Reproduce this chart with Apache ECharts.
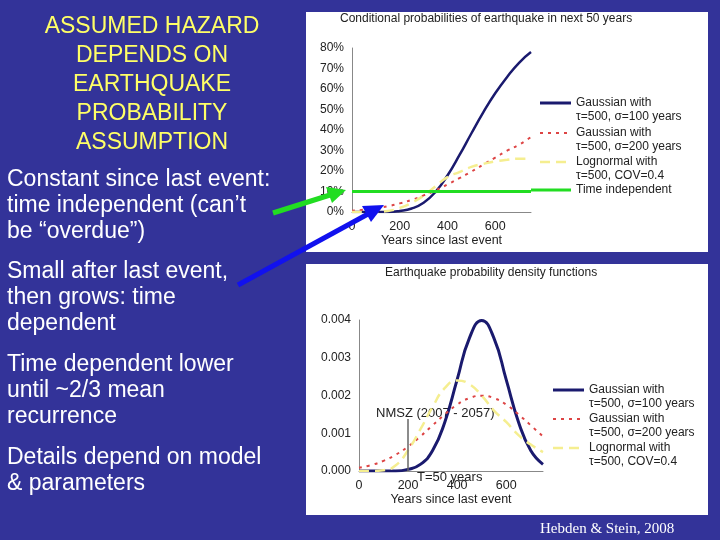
<!DOCTYPE html>
<html><head><meta charset="utf-8">
<script src="https://cdn.jsdelivr.net/npm/echarts@6/dist/echarts.min.js"></script>
<style>html,body{margin:0;padding:0;background:#333399}#c{width:720px;height:540px}</style>
</head><body><div id="c"></div>
<script>
var years = [0,50,100,150,200,250,300,350,400,450,500,550,600,650,700,750];
var xTicks = [0,200,400,600];
var condGauss100 = [0,0,0,0,0.5,1.7,4.5,9.8,17.8,27.7,38.3,48.6,57.9,65.9,72.8,78];
var condGauss200 = [0.6,1.1,1.8,2.8,4.2,5.9,8.1,10.6,13.4,16.5,19.7,23.1,26.5,29.9,32.8,36.6];
var condLognorm = [0,0,0.1,0.5,2,4.5,8,12.5,17,19.5,22,23.5,24.7,25.5,26,26];
var condIndep = [10,10,10,10,10,10,10,10,10,10,10,10,10,10,10,10];
var pdfGauss100 = [0,0,0,0,0.000044,0.000175,0.00054,0.0013,0.00242,0.00352,0.00399,0.00352,0.00242,0.0013,0.00054,0.000175];
var pdfGauss200 = [0.000088,0.000159,0.00027,0.000432,0.000648,0.000913,0.00121,0.0015,0.00176,0.00193,0.001995,0.00193,0.00176,0.0015,0.00121,0.000913];
var pdfLognorm = [0,0,0.00002,0.00015,0.00055,0.0011,0.0017,0.0022,0.0024,0.0023,0.002,0.0016,0.0013,0.00095,0.0007,0.0005];
var names = ['Gaussian with\nτ=500, σ=100 years','Gaussian with\nτ=500, σ=200 years','Lognormal with\nτ=500, COV=0.4','Time independent'];

function pairs(v){return years.map(function(y,i){return [y,v[i]];});}
var F='Liberation Sans, Arial, sans-serif';
var C=['#1a1a6e','#d44','#f5ee90','#22dd22'];
var W=[3,2,2.5,3];
var D=[null,[3,5],[10,6],null];
function xAxis(gi){return {type:'value',gridIndex:gi,min:0,max:750,interval:200,
 axisLine:{show:true,onZero:false,lineStyle:{color:'#888'}},axisTick:{show:false},splitLine:{show:false},
 axisLabel:{color:'#222',fontSize:12.5,fontFamily:F,showMaxLabel:false,margin:8},
 name:'Years since last event',nameLocation:'middle',nameGap:22,nameTextStyle:{color:'#222',fontSize:12.5,fontFamily:F}};}
function legendItems(x,ys,n){
 var g=[];
 for(var i=0;i<n;i++){
  g.push({type:'line',z:10,shape:{x1:x,y1:ys[i]+7,x2:x+31,y2:ys[i]+7},style:{stroke:C[i],lineWidth:W[i],lineDash:D[i]}});
  g.push({type:'text',z:10,style:{x:x+36,y:ys[i],text:names[i],fill:'#222',font:'12px '+F,lineHeight:14}});
 }
 return g;
}
var chart = echarts.init(document.getElementById('c'));
var graphics=[
  {type:'rect',z:-10,shape:{x:306,y:12,width:402,height:240},style:{fill:'#fff'}},
  {type:'rect',z:-10,shape:{x:306,y:264,width:402,height:251},style:{fill:'#fff'}},
  {type:'text',style:{x:340,y:13,text:'Conditional probabilities of earthquake in next 50 years',fill:'#222',font:'12px '+F}},
  {type:'text',style:{x:385,y:267,text:'Earthquake probability density functions',fill:'#222',font:'12px '+F}},
  {type:'text',style:{x:376,y:407,text:'NMSZ (2007 - 2057)',fill:'#222',font:'13px '+F}},
  {type:'text',style:{x:417,y:471,text:'T=50 years',fill:'#222',font:'13px '+F}},
  {type:'line',z:10,shape:{x1:531,y1:190,x2:571,y2:190},style:{stroke:'#22dd22',lineWidth:3}},
  {type:'text',style:{x:152,y:12,text:'ASSUMED HAZARD\nDEPENDS ON\nEARTHQUAKE\nPROBABILITY\nASSUMPTION',fill:'#ffff66',font:'23px '+F,align:'center',lineHeight:29}},
  {type:'text',style:{x:7,y:167,text:'Constant since last event:\ntime independent (can’t\nbe “overdue”)',fill:'#fff',font:'23px '+F,lineHeight:26}},
  {type:'text',style:{x:7,y:259,text:'Small after last event,\nthen grows: time\ndependent',fill:'#fff',font:'23px '+F,lineHeight:26}},
  {type:'text',style:{x:7,y:352,text:'Time dependent lower\nuntil ~2/3 mean\nrecurrence',fill:'#fff',font:'23px '+F,lineHeight:26}},
  {type:'text',style:{x:7,y:445,text:'Details depend on model\n& parameters',fill:'#fff',font:'23px '+F,lineHeight:26}},
  {type:'text',style:{x:540,y:522,text:'Hebden & Stein, 2008',fill:'#fff',font:'15px Liberation Serif, serif'}},
  {type:'line',z:20,shape:{x1:273,y1:213,x2:330,y2:195},style:{stroke:'#22dd22',lineWidth:5}},
  {type:'polygon',z:20,shape:{points:[[346,190],[326,187],[332,203]]},style:{fill:'#22dd22'}},
  {type:'line',z:20,shape:{x1:238,y1:285,x2:368,y2:214},style:{stroke:'#1111ee',lineWidth:5}},
  {type:'polygon',z:20,shape:{points:[[384,205],[362,206],[371,222]]},style:{fill:'#1111ee'}}
].concat(legendItems(540,[96,126,155,183],4)).concat(legendItems(553,[383,412,441],3));
graphics=graphics.filter(function(g,i){return !(g.type==='line'&&g.shape.y1===190&&g.shape.x1===540);});
chart.setOption({
 backgroundColor:'#333399',animation:false,
 grid:[{left:352,top:48,width:179,height:164},{left:359,top:320,width:184,height:151}],
 xAxis:[xAxis(0),xAxis(1)],
 yAxis:[{type:'value',gridIndex:0,min:0,max:80,interval:10,axisLine:{show:true,lineStyle:{color:'#888'}},axisTick:{show:false},splitLine:{show:false},
   axisLabel:{color:'#222',fontSize:12,fontFamily:F,formatter:'{value}%'}},
  {type:'value',gridIndex:1,min:0,max:0.004,interval:0.001,axisLine:{show:true,lineStyle:{color:'#888'}},axisTick:{show:false},splitLine:{show:false},
   axisLabel:{color:'#222',fontSize:12,fontFamily:F,formatter:function(v){return v.toFixed(3);}}}],
 series:[
  {name:names[0],type:'line',xAxisIndex:0,yAxisIndex:0,data:pairs(condGauss100),smooth:true,showSymbol:false,lineStyle:{color:C[0],width:2.5}},
  {name:names[1],type:'line',xAxisIndex:0,yAxisIndex:0,data:pairs(condGauss200),smooth:true,showSymbol:false,lineStyle:{color:C[1],width:2,type:[3,5]}},
  {name:names[2],type:'line',xAxisIndex:0,yAxisIndex:0,data:pairs(condLognorm),smooth:true,showSymbol:false,lineStyle:{color:C[2],width:2.5,type:[10,6]}},
  {name:names[3],type:'line',xAxisIndex:0,yAxisIndex:0,data:pairs(condIndep),showSymbol:false,lineStyle:{color:C[3],width:3},z:5},
  {name:names[0],type:'line',xAxisIndex:1,yAxisIndex:1,data:pairs(pdfGauss100),smooth:true,showSymbol:false,lineStyle:{color:C[0],width:3}},
  {name:names[1],type:'line',xAxisIndex:1,yAxisIndex:1,data:pairs(pdfGauss200),smooth:true,showSymbol:false,lineStyle:{color:C[1],width:2,type:[3,5]}},
  {name:names[2],type:'line',xAxisIndex:1,yAxisIndex:1,data:pairs(pdfLognorm),smooth:true,showSymbol:false,lineStyle:{color:C[2],width:2.5,type:[10,6]},
   markLine:{silent:true,symbol:'none',label:{show:false},lineStyle:{color:'#666',type:'solid',width:1.5},data:[[{coord:[200,0]},{coord:[200,0.00138]}]]}}
 ],
 graphic:graphics
});
</script></body></html>
